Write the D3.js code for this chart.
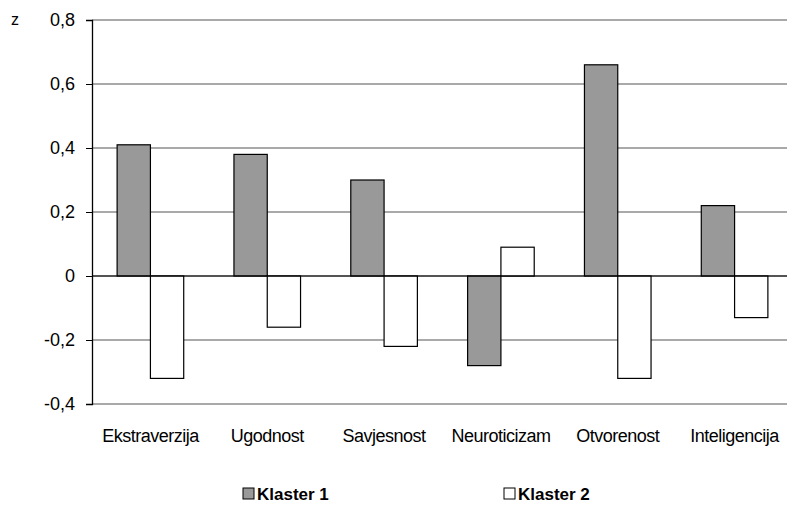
<!DOCTYPE html>
<html>
<head>
<meta charset="utf-8">
<script src="https://cdn.jsdelivr.net/npm/d3@7"></script>
<style>
  body { margin: 0; background: #fff; }
  text { font-family: "Liberation Sans", Arial, sans-serif; }
</style>
</head>
<body>
<div id="chart"></div>
<script>
// Data
const categories = ["Ekstraverzija", "Ugodnost", "Savjesnost", "Neuroticizam", "Otvorenost", "Inteligencija"];
const klaster1 = [0.41, 0.38, 0.30, -0.28, 0.66, 0.22];
const klaster2 = [-0.32, -0.16, -0.22, 0.09, -0.32, -0.13];
const seriesNames = ["Klaster 1", "Klaster 2"];
const seriesColors = ["#999999", "#ffffff"];
const yTicks = [-0.4, -0.2, 0, 0.2, 0.4, 0.6, 0.8];

const W = 787, H = 507;
const margin = {top: 20, right: -6, bottom: 103, left: 92};
const width = W - margin.left - margin.right;
const height = H - margin.top - margin.bottom;

const svg = d3.select("#chart")
    .append("svg")
    .attr("width", W)
    .attr("height", H);

const g = svg.append("g")
    .attr("transform", `translate(${margin.left},${margin.top})`);

// Scales
const x0 = d3.scaleBand()
    .domain(categories)
    .range([0, width])
    .paddingInner(0.43)
    .paddingOuter(0.215);

const x1 = d3.scaleBand()
    .domain(seriesNames)
    .range([0, x0.bandwidth()]);

const y = d3.scaleLinear()
    .domain([-0.4, 0.8])
    .range([height, 0]);

const fmt = d => d === 0 ? "0" : d3.format(".1f")(d).replace(".", ",").replace("−", "-");

// Gridlines
g.append("g")
    .selectAll("line")
    .data(yTicks)
    .enter()
    .append("line")
    .attr("x1", 0)
    .attr("x2", width)
    .attr("y1", d => y(d))
    .attr("y2", d => y(d))
    .attr("stroke", "#8c8c8c")
    .attr("stroke-width", 1.3);

// Bars
const rows = categories.map((c, i) => ({cat: c, vals: [klaster1[i], klaster2[i]]}));

const groups = g.selectAll(".grp")
    .data(rows)
    .enter()
    .append("g")
    .attr("transform", d => `translate(${x0(d.cat)},0)`);

groups.selectAll("rect")
    .data(d => d.vals.map((v, j) => ({name: seriesNames[j], v: v, j: j})))
    .enter()
    .append("rect")
    .attr("x", d => x1(d.name))
    .attr("width", x1.bandwidth())
    .attr("y", d => y(Math.max(0, d.v)))
    .attr("height", d => Math.abs(y(d.v) - y(0)))
    .attr("fill", d => seriesColors[d.j])
    .attr("stroke", "#000")
    .attr("stroke-width", 1.2);

// Zero line
g.append("line")
    .attr("x1", 0)
    .attr("x2", width)
    .attr("y1", y(0))
    .attr("y2", y(0))
    .attr("stroke", "#000")
    .attr("stroke-width", 1.2);

// Y axis
const yAxis = d3.axisLeft(y)
    .tickValues(yTicks)
    .tickSize(6)
    .tickPadding(11)
    .tickFormat(fmt);

const ya = g.append("g").call(yAxis);
ya.select(".domain").attr("stroke-width", 1.3);
ya.selectAll("text")
    .style("font-size", "18px")
    .attr("fill", "#000");

// Category labels
const xa = g.append("g")
    .attr("transform", `translate(0,${height})`)
    .call(d3.axisBottom(x0).tickSize(0).tickPadding(25));
xa.select(".domain").remove();
xa.selectAll("text")
    .style("font-size", "18px")
    .style("letter-spacing", "-0.5px")
    .attr("fill", "#000");

// z label
svg.append("text")
    .attr("x", 11)
    .attr("y", 25)
    .style("font-size", "16px")
    .text("z");

// Legend
const legendX = [243, 504];
const legend = svg.selectAll(".leg")
    .data(seriesNames)
    .enter()
    .append("g")
    .attr("transform", (d, i) => `translate(${legendX[i]},488)`);

legend.append("rect")
    .attr("width", 11)
    .attr("height", 11)
    .attr("fill", (d, i) => seriesColors[i])
    .attr("stroke", "#000")
    .attr("stroke-width", 1);

legend.append("text")
    .attr("x", 14)
    .attr("y", 12)
    .style("font-size", "17px")
    .style("font-weight", "bold")
    .text(d => d);
</script>
</body>
</html>
